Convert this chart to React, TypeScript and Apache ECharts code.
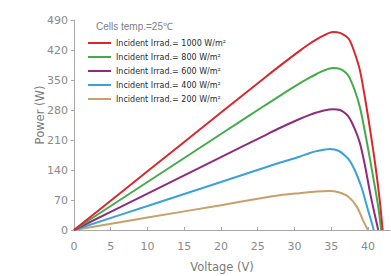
import React, { useEffect, useRef } from "react";
import * as echarts from "echarts";

const seriesNames = [
  "Incident Irrad.= 1000 W/m²",
  "Incident Irrad.= 800 W/m²",
  "Incident Irrad.= 600 W/m²",
  "Incident Irrad.= 400 W/m²",
  "Incident Irrad.= 200 W/m²",
];
const seriesColors = ["#d8282e", "#44ab4a", "#8e2b7e", "#3aa2d6", "#c8a06a"];

const irr1000: number[][] = [[0, 0], [10, 137], [20, 274], [26, 356], [28, 383], [30.7, 418], [32, 434], [33, 445], [34, 454], [35.2, 462], [36.2, 460], [37, 452], [37.5, 443], [38.2, 413], [38.9, 373], [39.6, 308], [40.3, 233], [41, 152], [41.6, 70], [42.0, 0]];
const irr800: number[][] = [[0, 0], [10, 112], [20, 224], [26, 291], [28, 313], [30.7, 342], [32, 355], [33, 364], [34, 372], [35.2, 378], [36.2, 376], [37, 367], [37.5, 355], [38.2, 326], [38.9, 287], [39.6, 228], [40.3, 163], [40.9, 105], [41.4, 54], [41.8, 0]];
const irr600: number[][] = [[0, 0], [10, 85], [20, 170], [26, 221], [28, 238], [30.7, 259], [32, 268], [33, 274], [34, 279], [35.2, 282], [36.2, 280], [37, 271], [37.5, 261], [38.2, 236], [38.9, 203], [39.6, 150], [40.3, 86], [40.9, 38], [41.4, 0]];
const irr400: number[][] = [[0, 0], [10, 56], [20, 112], [26, 146], [28, 157], [30.7, 171], [32, 179], [33, 184], [34.8, 189], [36, 185], [36.9, 173], [37.5, 162], [38.2, 140], [39.1, 101], [40, 47], [40.8, 0]];
const irr200: number[][] = [[0, 0], [10, 29], [20, 58], [26, 76], [28, 81], [30.7, 86], [33, 90], [34.8, 91], [36, 88], [37.3, 78], [38.5, 54], [39.4, 20], [40.0, 0]];
const seriesData = [irr1000, irr800, irr600, irr400, irr200];

const titleText = "Cells temp.=25℃";
const xName = "Voltage (V)";
const yName = "Power (W)";

export default function App() {
  const ref = useRef<HTMLDivElement>(null);
  useEffect(() => {
    if (!ref.current) return;
    const chart = echarts.init(ref.current, null, { renderer: "svg" });
    const font = "DejaVu Sans";
    chart.setOption({
      animation: false,
      grid: { left: 74, right: 1, top: 20, bottom: 46, containLabel: false },
      xAxis: {
        type: "value",
        min: 0,
        max: 43,
        interval: 5,
        axisLine: { show: true, lineStyle: { color: "#a8a8a8", width: 1 } },
        axisTick: { show: true, inside: true, length: 3, lineStyle: { color: "#a8a8a8" } },
        axisLabel: { color: "#8a8a8a", fontSize: 11, fontFamily: font, margin: 11, showMaxLabel: false },
        splitLine: { show: false },
      },
      yAxis: {
        type: "value",
        min: 0,
        max: 490,
        interval: 70,
        axisLine: { show: true, lineStyle: { color: "#a8a8a8", width: 1 } },
        axisTick: { show: true, inside: false, length: 3, lineStyle: { color: "#a8a8a8" } },
        axisLabel: { color: "#8a8a8a", fontSize: 11, fontFamily: font, margin: 6 },
        splitLine: { show: false },
      },
      legend: {
        orient: "vertical",
        left: 88,
        top: 36,
        padding: 0,
        itemGap: 0,
        itemWidth: 23,
        itemHeight: 2,
        icon: "rect",
        textStyle: { fontSize: 8, fontFamily: font, color: "#2a2a2a", lineHeight: 14 },
        data: seriesNames,
      },
      graphic: [
        {
          type: "text",
          left: 96,
          top: 21,
          style: { text: titleText, fontSize: 10, fontFamily: "Liberation Sans Narrow, Liberation Sans", fill: "#808080" },
        },
        {
          type: "text",
          x: 40,
          y: 115,
          rotation: Math.PI / 2,
          style: { text: yName, fontSize: 11.5, fontFamily: font, fill: "#7a7a7a", align: "center", verticalAlign: "middle" },
        },
        {
          type: "text",
          x: 222,
          y: 267,
          style: { text: xName, fontSize: 11.5, fontFamily: font, fill: "#7a7a7a", align: "center", verticalAlign: "middle" },
        },
      ],
      series: seriesNames.map((name, i) => ({
        name,
        type: "line",
        data: seriesData[i],
        smooth: 0.3,
        showSymbol: false,
        symbol: "none",
        lineStyle: { color: seriesColors[i], width: 2 },
        itemStyle: { color: seriesColors[i] },
        z: 10 - i,
      })),
    });
    return () => chart.dispose();
  }, []);
  return <div ref={ref} style={{ width: 391, height: 276, position: "absolute", left: 0, top: 0 }} />;
}
